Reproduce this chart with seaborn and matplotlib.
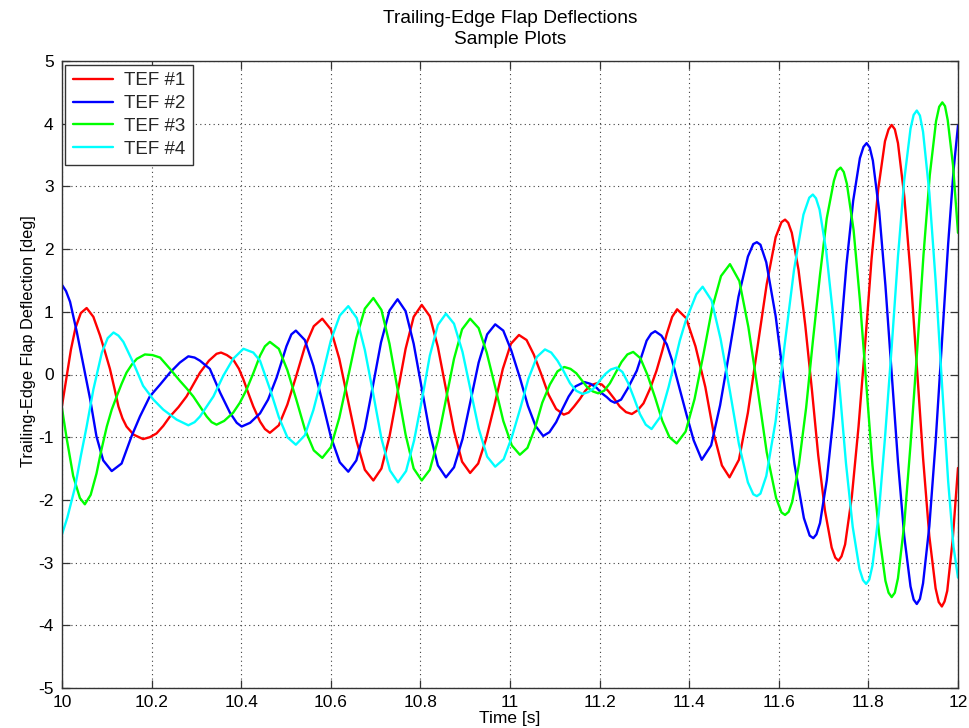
import matplotlib
matplotlib.use("Agg")
import matplotlib.pyplot as plt
import numpy as np
import pandas as pd
import seaborn as sns

# ---------------- data ----------------
series_names = ["TEF #1", "TEF #2", "TEF #3", "TEF #4"]
series_colors = ["#ff0000", "#0000ff", "#00ff00", "#00ffff"]

x_ticks = [10.0, 10.2, 10.4, 10.6, 10.8, 11.0, 11.2, 11.4, 11.6, 11.8, 12.0]
x_tick_labels = ["10", "10.2", "10.4", "10.6", "10.8", "11", "11.2", "11.4", "11.6", "11.8", "12"]
y_ticks = [-5, -4, -3, -2, -1, 0, 1, 2, 3, 4, 5]
y_tick_labels = ["-5", "-4", "-3", "-2", "-1", "0", "1", "2", "3", "4", "5"]

# TEF #1 (red)
t_tef1 = [10.000, 10.010, 10.020, 10.030, 10.042, 10.055, 10.070, 10.085, 10.096, 10.107,
          10.117, 10.126, 10.135, 10.144, 10.160, 10.181, 10.196, 10.211, 10.226, 10.241,
          10.260, 10.278, 10.293, 10.308, 10.328, 10.345, 10.355, 10.368, 10.382, 10.395,
          10.405, 10.417, 10.427, 10.442, 10.453, 10.464, 10.484, 10.503, 10.523, 10.542,
          10.562, 10.581, 10.600, 10.619, 10.638, 10.657, 10.676, 10.695, 10.713, 10.731,
          10.749, 10.767, 10.785, 10.803, 10.821, 10.839, 10.857, 10.875, 10.893, 10.911,
          10.929, 10.947, 10.966, 10.984, 11.002, 11.020, 11.037, 11.053, 11.070, 11.086,
          11.103, 11.120, 11.131, 11.143, 11.156, 11.168, 11.180, 11.194, 11.205, 11.219,
          11.232, 11.245, 11.259, 11.272, 11.285, 11.298, 11.313, 11.327, 11.340, 11.350,
          11.362, 11.373, 11.393, 11.414, 11.436, 11.455, 11.473, 11.490, 11.511, 11.531,
          11.552, 11.573, 11.593, 11.606, 11.614, 11.621, 11.629, 11.644, 11.659, 11.674,
          11.688, 11.703, 11.718, 11.726, 11.733, 11.740, 11.748, 11.763, 11.778, 11.793,
          11.807, 11.822, 11.837, 11.845, 11.852, 11.859, 11.866, 11.880, 11.894, 11.908,
          11.922, 11.936, 11.950, 11.957, 11.964, 11.970, 11.976, 11.988, 12.000]
y_tef1 = [-0.50, -0.05, 0.40, 0.74, 0.98, 1.06, 0.92, 0.62, 0.36, 0.09,
          -0.22, -0.51, -0.70, -0.83, -0.96, -1.03, -1.00, -0.94, -0.82, -0.67,
          -0.52, -0.35, -0.16, 0.03, 0.22, 0.33, 0.35, 0.31, 0.24, 0.09,
          -0.08, -0.32, -0.51, -0.75, -0.87, -0.93, -0.81, -0.48, -0.02, 0.44,
          0.77, 0.89, 0.72, 0.25, -0.40, -1.05, -1.52, -1.69, -1.50, -0.99,
          -0.29, 0.41, 0.92, 1.11, 0.93, 0.44, -0.23, -0.90, -1.39, -1.57,
          -1.42, -1.02, -0.47, 0.09, 0.49, 0.63, 0.55, 0.32, 0.00, -0.32,
          -0.55, -0.64, -0.61, -0.51, -0.39, -0.26, -0.17, -0.14, -0.16, -0.26,
          -0.38, -0.51, -0.60, -0.63, -0.57, -0.46, -0.22, 0.06, 0.38, 0.65,
          0.92, 1.04, 0.90, 0.45, -0.20, -0.95, -1.45, -1.64, -1.36, -0.61,
          0.42, 1.44, 2.19, 2.43, 2.47, 2.42, 2.26, 1.67, 0.79, -0.25,
          -1.29, -2.17, -2.76, -2.92, -2.97, -2.90, -2.71, -1.95, -0.83, 0.51,
          1.84, 2.96, 3.72, 3.91, 3.98, 3.91, 3.69, 2.85, 1.61, 0.14,
          -1.33, -2.58, -3.41, -3.63, -3.70, -3.62, -3.45, -2.65, -1.49]

# TEF #2 (blue)
t_tef2 = [10.000, 10.009, 10.018, 10.033, 10.048, 10.063, 10.077, 10.092, 10.111, 10.133,
          10.155, 10.174, 10.196, 10.219, 10.241, 10.263, 10.282, 10.296, 10.308, 10.330,
          10.353, 10.375, 10.390, 10.401, 10.420, 10.442, 10.460, 10.479, 10.501, 10.512,
          10.522, 10.542, 10.561, 10.581, 10.600, 10.620, 10.639, 10.657, 10.676, 10.694,
          10.712, 10.731, 10.749, 10.767, 10.785, 10.803, 10.821, 10.839, 10.857, 10.875,
          10.894, 10.912, 10.930, 10.949, 10.967, 10.985, 11.003, 11.022, 11.040, 11.057,
          11.074, 11.088, 11.103, 11.117, 11.131, 11.146, 11.166, 11.180, 11.193, 11.205,
          11.216, 11.225, 11.234, 11.248, 11.263, 11.283, 11.295, 11.305, 11.315, 11.324,
          11.338, 11.350, 11.362, 11.372, 11.384, 11.394, 11.410, 11.428, 11.449, 11.469,
          11.490, 11.510, 11.531, 11.543, 11.551, 11.559, 11.572, 11.593, 11.614, 11.635,
          11.656, 11.669, 11.677, 11.684, 11.692, 11.707, 11.722, 11.737, 11.751, 11.766,
          11.781, 11.789, 11.796, 11.803, 11.810, 11.824, 11.838, 11.852, 11.866, 11.880,
          11.894, 11.901, 11.908, 11.915, 11.922, 11.936, 11.950, 11.964, 11.978, 11.990,
          12.000]
y_tef2 = [1.43, 1.33, 1.16, 0.68, 0.14, -0.40, -0.99, -1.37, -1.54, -1.42,
          -0.99, -0.67, -0.35, -0.16, 0.03, 0.19, 0.29, 0.27, 0.22, 0.09,
          -0.29, -0.61, -0.77, -0.83, -0.77, -0.62, -0.40, -0.05, 0.45, 0.64,
          0.70, 0.55, 0.14, -0.43, -0.99, -1.40, -1.55, -1.37, -0.86, -0.18,
          0.51, 1.02, 1.20, 1.01, 0.49, -0.22, -0.93, -1.45, -1.64, -1.48,
          -1.03, -0.42, 0.19, 0.64, 0.80, 0.70, 0.38, -0.05, -0.50, -0.82,
          -0.98, -0.92, -0.76, -0.55, -0.35, -0.19, -0.12, -0.15, -0.21, -0.30,
          -0.36, -0.42, -0.45, -0.40, -0.22, 0.06, 0.32, 0.54, 0.65, 0.69,
          0.62, 0.48, 0.22, -0.05, -0.38, -0.64, -1.05, -1.36, -1.13, -0.49,
          0.38, 1.24, 1.88, 2.08, 2.11, 2.07, 1.79, 0.93, -0.25, -1.43,
          -2.29, -2.57, -2.61, -2.55, -2.37, -1.69, -0.67, 0.54, 1.75, 2.77,
          3.45, 3.63, 3.69, 3.62, 3.41, 2.61, 1.42, 0.02, -1.39, -2.58,
          -3.38, -3.59, -3.66, -3.58, -3.33, -2.42, -1.08, 0.50, 2.08, 3.25,
          3.97]

# TEF #3 (green)
t_tef3 = [10.000, 10.010, 10.025, 10.040, 10.051, 10.064, 10.077, 10.088, 10.100, 10.111,
          10.122, 10.133, 10.144, 10.156, 10.167, 10.185, 10.202, 10.219, 10.241, 10.263,
          10.278, 10.293, 10.308, 10.323, 10.334, 10.345, 10.362, 10.382, 10.397, 10.412,
          10.427, 10.442, 10.453, 10.464, 10.484, 10.503, 10.523, 10.542, 10.562, 10.581,
          10.600, 10.619, 10.638, 10.657, 10.676, 10.695, 10.713, 10.731, 10.749, 10.767,
          10.785, 10.803, 10.821, 10.839, 10.857, 10.875, 10.893, 10.911, 10.930, 10.948,
          10.967, 10.985, 11.004, 11.022, 11.039, 11.056, 11.072, 11.089, 11.106, 11.121,
          11.135, 11.148, 11.160, 11.172, 11.185, 11.197, 11.210, 11.223, 11.236, 11.249,
          11.262, 11.275, 11.291, 11.307, 11.324, 11.340, 11.356, 11.372, 11.392, 11.412,
          11.432, 11.451, 11.471, 11.491, 11.512, 11.532, 11.553, 11.573, 11.594, 11.606,
          11.614, 11.622, 11.630, 11.645, 11.661, 11.676, 11.692, 11.707, 11.723, 11.730,
          11.738, 11.745, 11.752, 11.767, 11.781, 11.795, 11.809, 11.824, 11.838, 11.845,
          11.852, 11.859, 11.866, 11.880, 11.894, 11.909, 11.923, 11.937, 11.951, 11.958,
          11.965, 11.971, 11.977, 11.989, 12.000]
y_tef3 = [-0.54, -1.00, -1.62, -1.97, -2.07, -1.92, -1.58, -1.20, -0.83, -0.56,
          -0.35, -0.15, 0.03, 0.16, 0.25, 0.32, 0.31, 0.27, 0.09, -0.10,
          -0.22, -0.35, -0.51, -0.67, -0.76, -0.80, -0.74, -0.61, -0.45, -0.24,
          0.02, 0.30, 0.45, 0.52, 0.41, 0.07, -0.40, -0.87, -1.21, -1.33,
          -1.16, -0.69, -0.06, 0.58, 1.05, 1.22, 1.03, 0.49, -0.24, -0.96,
          -1.50, -1.69, -1.52, -1.05, -0.40, 0.25, 0.72, 0.89, 0.74, 0.35,
          -0.20, -0.74, -1.13, -1.28, -1.17, -0.85, -0.45, -0.16, 0.05, 0.12,
          0.09, 0.02, -0.09, -0.20, -0.27, -0.30, -0.26, -0.14, 0.03, 0.20,
          0.32, 0.36, 0.26, -0.01, -0.37, -0.74, -1.00, -1.10, -0.91, -0.39,
          0.33, 1.05, 1.57, 1.76, 1.49, 0.76, -0.24, -1.24, -1.97, -2.20,
          -2.24, -2.19, -2.03, -1.43, -0.53, 0.53, 1.59, 2.49, 3.09, 3.25,
          3.30, 3.23, 3.04, 2.30, 1.19, -0.13, -1.44, -2.55, -3.29, -3.48,
          -3.55, -3.48, -3.25, -2.39, -1.12, 0.40, 1.91, 3.18, 4.04, 4.27,
          4.34, 4.28, 4.06, 3.33, 2.26]

# TEF #4 (cyan)
t_tef4 = [10.000, 10.012, 10.029, 10.042, 10.055, 10.070, 10.089, 10.102, 10.115, 10.126,
          10.137, 10.159, 10.181, 10.204, 10.226, 10.256, 10.282, 10.296, 10.308, 10.338,
          10.360, 10.382, 10.405, 10.427, 10.442, 10.465, 10.484, 10.503, 10.522, 10.542,
          10.561, 10.581, 10.600, 10.620, 10.639, 10.658, 10.676, 10.695, 10.713, 10.732,
          10.750, 10.768, 10.786, 10.804, 10.821, 10.839, 10.857, 10.875, 10.894, 10.912,
          10.930, 10.949, 10.967, 10.986, 11.004, 11.023, 11.041, 11.060, 11.078, 11.092,
          11.106, 11.120, 11.134, 11.148, 11.162, 11.175, 11.187, 11.200, 11.213, 11.225,
          11.238, 11.251, 11.264, 11.277, 11.290, 11.303, 11.316, 11.335, 11.354, 11.366,
          11.379, 11.392, 11.402, 11.416, 11.430, 11.450, 11.470, 11.491, 11.511, 11.531,
          11.543, 11.551, 11.559, 11.572, 11.593, 11.613, 11.634, 11.655, 11.668, 11.676,
          11.683, 11.691, 11.706, 11.721, 11.736, 11.750, 11.765, 11.780, 11.788, 11.795,
          11.802, 11.809, 11.823, 11.837, 11.852, 11.866, 11.880, 11.894, 11.901, 11.908,
          11.915, 11.922, 11.936, 11.950, 11.964, 11.978, 11.990, 12.000]
y_tef4 = [-2.55, -2.28, -1.80, -1.30, -0.83, -0.24, 0.35, 0.58, 0.67, 0.62,
          0.52, 0.19, -0.18, -0.40, -0.56, -0.72, -0.81, -0.76, -0.67, -0.35,
          -0.02, 0.25, 0.41, 0.35, 0.22, -0.25, -0.68, -1.00, -1.12, -0.97,
          -0.57, -0.02, 0.54, 0.94, 1.09, 0.90, 0.39, -0.32, -1.02, -1.53,
          -1.72, -1.54, -1.05, -0.38, 0.30, 0.79, 0.97, 0.81, 0.36, -0.25,
          -0.86, -1.31, -1.47, -1.35, -1.00, -0.54, -0.07, 0.28, 0.40, 0.35,
          0.22, 0.05, -0.14, -0.26, -0.31, -0.28, -0.22, -0.10, 0.01, 0.08,
          0.11, 0.04, -0.14, -0.38, -0.63, -0.80, -0.87, -0.68, -0.20, 0.15,
          0.54, 0.85, 1.03, 1.28, 1.40, 1.18, 0.57, -0.27, -1.11, -1.72,
          -1.91, -1.94, -1.90, -1.62, -0.74, 0.47, 1.67, 2.55, 2.82, 2.87,
          2.81, 2.63, 1.96, 0.95, -0.24, -1.42, -2.43, -3.10, -3.28, -3.34,
          -3.27, -3.05, -2.23, -1.01, 0.44, 1.88, 3.10, 3.92, 4.14, 4.21,
          4.13, 3.87, 2.90, 1.50, -0.12, -1.70, -2.75, -3.24]

title_text = "Trailing-Edge Flap Deflections\nSample Plots"
x_label = "Time [s]"
y_label = "Trailing-Edge Flap Deflection [deg]"

# ---------------- build long-form table ----------------
frames = []
for name, tt, yy in zip(series_names, [t_tef1, t_tef2, t_tef3, t_tef4],
                        [y_tef1, y_tef2, y_tef3, y_tef4]):
    frames.append(pd.DataFrame({"Time": tt, "Deflection": yy, "Series": name}))
df = pd.concat(frames, ignore_index=True)

# ---------------- style ----------------
sns.set_theme(style="white")
plt.rcParams["font.family"] = ["Liberation Sans", "DejaVu Sans"]
plt.rcParams["axes.unicode_minus"] = False

W, H = 970, 728
fig = plt.figure(figsize=(W / 100, H / 100), dpi=100)
fig.patch.set_facecolor("white")
ax = fig.add_axes([62 / W, 1 - 688 / H, 896 / W, 627 / H])
ax.set_facecolor("white")

sns.lineplot(data=df, x="Time", y="Deflection", hue="Series",
             hue_order=series_names, palette=dict(zip(series_names, series_colors)),
             estimator=None, sort=False, linewidth=1.7, ax=ax)

ax.set_xlim(10, 12)
ax.set_ylim(-5, 5)
ax.set_xticks(x_ticks)
ax.set_xticklabels(x_tick_labels)
ax.set_yticks(y_ticks)
ax.set_yticklabels(y_tick_labels)

ax.grid(True, linestyle=(0, (1, 3)), color="0.25", linewidth=0.8)
ax.set_axisbelow(True)

for sp in ax.spines.values():
    sp.set_visible(True)
    sp.set_color("0.2")
    sp.set_linewidth(1.0)

ax.tick_params(axis="both", which="both", direction="in", length=6, width=0.9,
               color="0.2", top=True, right=True, bottom=True, left=True,
               labelsize=12.5, labelcolor="black")
ax.tick_params(axis="x", pad=5)
ax.tick_params(axis="y", pad=6)

ax.set_xlabel(x_label, fontsize=12.5, color="black", labelpad=0.5)
ax.set_ylabel(y_label, fontsize=11.8, color="black")
ax.yaxis.set_label_coords(-0.029, 0.553)
ax.set_title(title_text, fontsize=13.8, color="black", pad=12, linespacing=1.3)

handles, labels = ax.get_legend_handles_labels()
leg = ax.legend(handles, labels, loc="upper left", bbox_to_anchor=(0.0035, 0.994),
                borderaxespad=0, fontsize=13.5, frameon=True, fancybox=False,
                edgecolor="0.2", framealpha=1, handlelength=2.15, handletextpad=0.6,
                labelspacing=0.3, borderpad=0.4)
leg.get_frame().set_linewidth(1.0)
for line in leg.get_lines():
    line.set_linewidth(1.7)

fig.savefig("out.png", dpi=100, facecolor="white")
